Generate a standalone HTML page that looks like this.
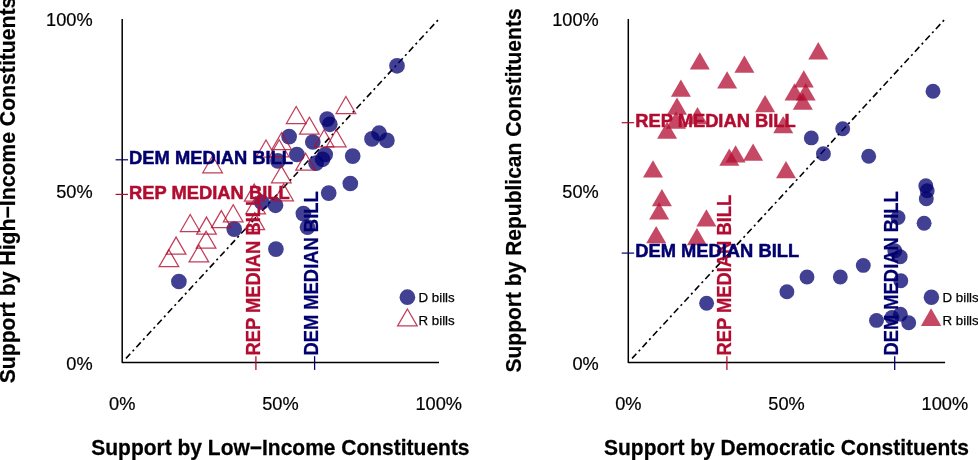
<!DOCTYPE html>
<html><head><meta charset="utf-8"><title>Support by constituents</title>
<style>html,body{margin:0;padding:0;background:#fff}svg{display:block;will-change:transform}text{font-family:"Liberation Sans",Arial,sans-serif}.t{font-size:18.2px;fill:#000;stroke:#000;stroke-width:0.2px}.b{font-size:18.2px;font-weight:bold;stroke-width:0.5px}.ti{font-size:21px;font-weight:bold;fill:#000;stroke:#000;stroke-width:0.25px}.lg{font-size:13.3px;fill:#000;stroke:#000;stroke-width:0.25px}</style></head><body>
<svg width="978" height="460" viewBox="0 0 978 460">
<rect width="978" height="460" fill="#fff"/>
<g transform="translate(0,0)">
<path d="M122.2 18.9L122.2 362.6L439.0 362.6" fill="none" stroke="#000" stroke-width="1.5" stroke-linejoin="round"/>
<path d="M437.95 20.1L126 358.4" fill="none" stroke="#000" stroke-width="1.6" stroke-dasharray="2.1 3.43 6.5 3.43"/>
<text class="t" transform="translate(92.6,26.2) scale(1,1.04)" text-anchor="end">100%</text>
<text class="t" transform="translate(92.6,198.1) scale(1,1.04)" text-anchor="end">50%</text>
<text class="t" transform="translate(92.6,369.9) scale(1,1.04)" text-anchor="end">0%</text>
<text class="t" transform="translate(122.2,410.3) scale(1,1.04)" text-anchor="middle">0%</text>
<text class="t" transform="translate(280.4,410.3) scale(1,1.04)" text-anchor="middle">50%</text>
<text class="t" transform="translate(438.7,410.3) scale(1,1.04)" text-anchor="middle">100%</text>
<text class="ti" transform="translate(280.4,454.9) scale(1,1.015)" text-anchor="middle">Support by Low−Income Constituents</text>
<text class="ti" style="stroke-width:0.2px" transform="translate(15.0,190.0) rotate(-90) scale(1.0095,1.03)" text-anchor="middle">Support by High−Income Constituents</text>
<circle cx="178.9" cy="281.5" r="7.85" fill="rgba(2,0,110,0.75)"/>
<circle cx="234.2" cy="229.1" r="7.85" fill="rgba(2,0,110,0.75)"/>
<circle cx="275.9" cy="249.1" r="7.85" fill="rgba(2,0,110,0.75)"/>
<circle cx="261.7" cy="202.2" r="7.85" fill="rgba(2,0,110,0.75)"/>
<circle cx="275.5" cy="205.3" r="7.85" fill="rgba(2,0,110,0.75)"/>
<circle cx="328.7" cy="193.1" r="7.85" fill="rgba(2,0,110,0.75)"/>
<circle cx="303.4" cy="213.6" r="7.85" fill="rgba(2,0,110,0.75)"/>
<circle cx="307.5" cy="227.2" r="7.85" fill="rgba(2,0,110,0.75)"/>
<circle cx="289.1" cy="136.6" r="7.85" fill="rgba(2,0,110,0.75)"/>
<circle cx="312.8" cy="142.0" r="7.85" fill="rgba(2,0,110,0.75)"/>
<circle cx="296.9" cy="154.5" r="7.85" fill="rgba(2,0,110,0.75)"/>
<circle cx="277.9" cy="160.9" r="7.85" fill="rgba(2,0,110,0.75)"/>
<circle cx="325.2" cy="154.5" r="7.85" fill="rgba(2,0,110,0.75)"/>
<circle cx="322.6" cy="159.3" r="7.85" fill="rgba(2,0,110,0.75)"/>
<circle cx="316.1" cy="163.2" r="7.85" fill="rgba(2,0,110,0.75)"/>
<circle cx="352.7" cy="156.1" r="7.85" fill="rgba(2,0,110,0.75)"/>
<circle cx="350.3" cy="183.5" r="7.85" fill="rgba(2,0,110,0.75)"/>
<circle cx="372.0" cy="138.9" r="7.85" fill="rgba(2,0,110,0.75)"/>
<circle cx="379.1" cy="133.2" r="7.85" fill="rgba(2,0,110,0.75)"/>
<circle cx="386.9" cy="140.4" r="7.85" fill="rgba(2,0,110,0.75)"/>
<circle cx="327.1" cy="119.1" r="7.85" fill="rgba(2,0,110,0.75)"/>
<circle cx="329.8" cy="124.3" r="7.85" fill="rgba(2,0,110,0.75)"/>
<circle cx="397.0" cy="65.8" r="7.85" fill="rgba(2,0,110,0.75)"/>
<path d="M168.9 249.7L178.7 266.6L159.1 266.6Z" fill="none" stroke="#B20C30" stroke-width="1.25" stroke-opacity="0.8"/>
<path d="M176.1 237.1L185.9 254.1L166.3 254.1Z" fill="none" stroke="#B20C30" stroke-width="1.25" stroke-opacity="0.8"/>
<path d="M198.9 245.0L208.7 261.9L189.1 261.9Z" fill="none" stroke="#B20C30" stroke-width="1.25" stroke-opacity="0.8"/>
<path d="M206.1 231.3L215.9 248.2L196.3 248.2Z" fill="none" stroke="#B20C30" stroke-width="1.25" stroke-opacity="0.8"/>
<path d="M190.2 214.5L200.0 231.5L180.4 231.5Z" fill="none" stroke="#B20C30" stroke-width="1.25" stroke-opacity="0.8"/>
<path d="M206.5 217.1L216.3 234.1L196.7 234.1Z" fill="none" stroke="#B20C30" stroke-width="1.25" stroke-opacity="0.8"/>
<path d="M221.3 210.6L231.1 227.6L211.5 227.6Z" fill="none" stroke="#B20C30" stroke-width="1.25" stroke-opacity="0.8"/>
<path d="M233.2 204.8L243.0 221.8L223.4 221.8Z" fill="none" stroke="#B20C30" stroke-width="1.25" stroke-opacity="0.8"/>
<path d="M254.2 184.1L264.0 201.1L244.4 201.1Z" fill="none" stroke="#B20C30" stroke-width="1.25" stroke-opacity="0.8"/>
<path d="M283.6 183.9L293.4 200.8L273.8 200.8Z" fill="none" stroke="#B20C30" stroke-width="1.25" stroke-opacity="0.8"/>
<path d="M255.6 196.9L265.4 213.8L245.8 213.8Z" fill="none" stroke="#B20C30" stroke-width="1.25" stroke-opacity="0.8"/>
<path d="M254.8 212.6L264.6 229.6L245.0 229.6Z" fill="none" stroke="#B20C30" stroke-width="1.25" stroke-opacity="0.8"/>
<path d="M281.3 165.9L291.1 182.8L271.5 182.8Z" fill="none" stroke="#B20C30" stroke-width="1.25" stroke-opacity="0.8"/>
<path d="M305.6 153.2L315.4 170.2L295.8 170.2Z" fill="none" stroke="#B20C30" stroke-width="1.25" stroke-opacity="0.8"/>
<path d="M309.4 117.3L319.2 134.2L299.6 134.2Z" fill="none" stroke="#B20C30" stroke-width="1.25" stroke-opacity="0.8"/>
<path d="M324.1 129.8L333.9 146.8L314.3 146.8Z" fill="none" stroke="#B20C30" stroke-width="1.25" stroke-opacity="0.8"/>
<path d="M336.3 129.8L346.1 146.8L326.5 146.8Z" fill="none" stroke="#B20C30" stroke-width="1.25" stroke-opacity="0.8"/>
<path d="M296.2 106.5L306.0 123.5L286.4 123.5Z" fill="none" stroke="#B20C30" stroke-width="1.25" stroke-opacity="0.8"/>
<path d="M345.9 96.5L355.7 113.5L336.1 113.5Z" fill="none" stroke="#B20C30" stroke-width="1.25" stroke-opacity="0.8"/>
<path d="M281.6 132.5L291.4 149.5L271.8 149.5Z" fill="none" stroke="#B20C30" stroke-width="1.25" stroke-opacity="0.8"/>
<path d="M279.2 139.8L289.0 156.8L269.4 156.8Z" fill="none" stroke="#B20C30" stroke-width="1.25" stroke-opacity="0.8"/>
<path d="M266.0 140.0L275.8 157.0L256.2 157.0Z" fill="none" stroke="#B20C30" stroke-width="1.25" stroke-opacity="0.8"/>
<path d="M212.6 155.8L222.4 172.8L202.8 172.8Z" fill="none" stroke="#B20C30" stroke-width="1.25" stroke-opacity="0.8"/>
<path d="M255.9 356.2L255.9 369.9" stroke="#B20C30" stroke-width="1.3"/>
<text class="b" transform="translate(260.2,355.6) rotate(-90) scale(1.01,1.06)" fill="#B20C30" stroke="#B20C30" style="stroke-width:0.25px">REP MEDIAN BILL</text>
<path d="M314.6 356.2L314.6 369.9" stroke="#02006E" stroke-width="1.3"/>
<text class="b" transform="translate(318.1,355.6) rotate(-90) scale(1.01,1.06)" fill="#02006E" stroke="#02006E" style="stroke-width:0.25px">DEM MEDIAN BILL</text>
<path d="M115.6 159.8L128 159.8" stroke="#02006E" stroke-width="1.2"/>
<text class="b" transform="translate(129.1,164.0) scale(1.008,1.02)" fill="#02006E" stroke="#02006E">DEM MEDIAN BILL</text>
<path d="M115.6 194.4L128 194.4" stroke="#B20C30" stroke-width="1.2"/>
<text class="b" transform="translate(129.1,198.6) scale(1.008,1.02)" fill="#B20C30" stroke="#B20C30">REP MEDIAN BILL</text>
<circle cx="407.4" cy="297.2" r="7.85" fill="rgba(2,0,110,0.75)"/>
<text class="lg" x="418.5" y="302.0">D bills</text>
<path d="M407.4 309.0L417.2 325.9L397.6 325.9Z" fill="none" stroke="#B20C30" stroke-width="1.25" stroke-opacity="0.8"/>
<text class="lg" x="418.5" y="324.9">R bills</text>
</g>
<g transform="translate(506.1,0)">
<path d="M122.2 18.9L122.2 362.6L439.0 362.6" fill="none" stroke="#000" stroke-width="1.5" stroke-linejoin="round"/>
<path d="M437.95 20.1L126 358.4" fill="none" stroke="#000" stroke-width="1.6" stroke-dasharray="2.1 3.43 6.5 3.43"/>
<text class="t" transform="translate(92.6,26.2) scale(1,1.04)" text-anchor="end">100%</text>
<text class="t" transform="translate(92.6,198.1) scale(1,1.04)" text-anchor="end">50%</text>
<text class="t" transform="translate(92.6,369.9) scale(1,1.04)" text-anchor="end">0%</text>
<text class="t" transform="translate(122.2,410.3) scale(1,1.04)" text-anchor="middle">0%</text>
<text class="t" transform="translate(280.4,410.3) scale(1,1.04)" text-anchor="middle">50%</text>
<text class="t" transform="translate(438.7,410.3) scale(1,1.04)" text-anchor="middle">100%</text>
<text class="ti" transform="translate(280.4,454.9) scale(1,1.015)" text-anchor="middle">Support by Democratic Constituents</text>
<text class="ti" style="stroke-width:0.2px" transform="translate(15.0,190.5) rotate(-90) scale(1.001,1.03)" text-anchor="middle">Support by Republican Constituents</text>
<circle cx="426.9" cy="91.3" r="7.45" fill="rgba(2,0,110,0.75)"/>
<circle cx="336.6" cy="128.7" r="7.45" fill="rgba(2,0,110,0.75)"/>
<circle cx="305.2" cy="137.9" r="7.45" fill="rgba(2,0,110,0.75)"/>
<circle cx="317.3" cy="153.7" r="7.45" fill="rgba(2,0,110,0.75)"/>
<circle cx="362.6" cy="156.3" r="7.45" fill="rgba(2,0,110,0.75)"/>
<circle cx="419.7" cy="185.8" r="7.45" fill="rgba(2,0,110,0.75)"/>
<circle cx="421.1" cy="190.7" r="7.45" fill="rgba(2,0,110,0.75)"/>
<circle cx="420.2" cy="198.8" r="7.45" fill="rgba(2,0,110,0.75)"/>
<circle cx="418.0" cy="223.3" r="7.45" fill="rgba(2,0,110,0.75)"/>
<circle cx="391.9" cy="217.5" r="7.45" fill="rgba(2,0,110,0.75)"/>
<circle cx="388.7" cy="250.8" r="7.45" fill="rgba(2,0,110,0.75)"/>
<circle cx="394.1" cy="256.7" r="7.45" fill="rgba(2,0,110,0.75)"/>
<circle cx="357.2" cy="265.4" r="7.45" fill="rgba(2,0,110,0.75)"/>
<circle cx="394.7" cy="280.7" r="7.45" fill="rgba(2,0,110,0.75)"/>
<circle cx="370.4" cy="320.4" r="7.45" fill="rgba(2,0,110,0.75)"/>
<circle cx="385.8" cy="317.4" r="7.45" fill="rgba(2,0,110,0.75)"/>
<circle cx="394.3" cy="314.3" r="7.45" fill="rgba(2,0,110,0.75)"/>
<circle cx="402.6" cy="322.7" r="7.45" fill="rgba(2,0,110,0.75)"/>
<circle cx="200.5" cy="303.2" r="7.45" fill="rgba(2,0,110,0.75)"/>
<circle cx="280.8" cy="291.7" r="7.45" fill="rgba(2,0,110,0.75)"/>
<circle cx="300.9" cy="277.0" r="7.45" fill="rgba(2,0,110,0.75)"/>
<circle cx="334.2" cy="277.0" r="7.45" fill="rgba(2,0,110,0.75)"/>
<path d="M193.7 52.2L203.7 69.5L183.7 69.5Z" fill="rgba(178,12,48,0.75)"/>
<path d="M221.0 71.3L231.0 88.5L211.0 88.5Z" fill="rgba(178,12,48,0.75)"/>
<path d="M174.8 79.5L184.8 96.8L164.8 96.8Z" fill="rgba(178,12,48,0.75)"/>
<path d="M238.3 55.4L248.3 72.7L228.3 72.7Z" fill="rgba(178,12,48,0.75)"/>
<path d="M170.9 97.6L180.9 114.8L160.9 114.8Z" fill="rgba(178,12,48,0.75)"/>
<path d="M191.4 107.0L201.4 124.2L181.4 124.2Z" fill="rgba(178,12,48,0.75)"/>
<path d="M169.9 111.6L179.9 128.8L159.9 128.8Z" fill="rgba(178,12,48,0.75)"/>
<path d="M161.0 121.5L171.0 138.8L151.0 138.8Z" fill="rgba(178,12,48,0.75)"/>
<path d="M312.2 42.1L322.2 59.4L302.2 59.4Z" fill="rgba(178,12,48,0.75)"/>
<path d="M297.7 70.2L307.7 87.5L287.7 87.5Z" fill="rgba(178,12,48,0.75)"/>
<path d="M288.4 83.2L298.4 100.5L278.4 100.5Z" fill="rgba(178,12,48,0.75)"/>
<path d="M299.6 83.2L309.6 100.5L289.6 100.5Z" fill="rgba(178,12,48,0.75)"/>
<path d="M296.7 92.5L306.7 109.8L286.7 109.8Z" fill="rgba(178,12,48,0.75)"/>
<path d="M259.0 94.9L269.0 112.2L249.0 112.2Z" fill="rgba(178,12,48,0.75)"/>
<path d="M277.1 115.9L287.1 133.2L267.1 133.2Z" fill="rgba(178,12,48,0.75)"/>
<path d="M146.9 160.3L156.9 177.6L136.9 177.6Z" fill="rgba(178,12,48,0.75)"/>
<path d="M223.2 148.6L233.2 165.8L213.2 165.8Z" fill="rgba(178,12,48,0.75)"/>
<path d="M229.5 145.3L239.5 162.6L219.5 162.6Z" fill="rgba(178,12,48,0.75)"/>
<path d="M155.8 188.9L165.8 206.2L145.8 206.2Z" fill="rgba(178,12,48,0.75)"/>
<path d="M153.0 202.3L163.0 219.6L143.0 219.6Z" fill="rgba(178,12,48,0.75)"/>
<path d="M200.3 209.3L210.3 226.6L190.3 226.6Z" fill="rgba(178,12,48,0.75)"/>
<path d="M150.1 226.1L160.1 243.3L140.1 243.3Z" fill="rgba(178,12,48,0.75)"/>
<path d="M190.8 228.0L200.8 245.2L180.8 245.2Z" fill="rgba(178,12,48,0.75)"/>
<path d="M247.0 143.4L257.0 160.7L237.0 160.7Z" fill="rgba(178,12,48,0.75)"/>
<path d="M279.9 161.0L289.9 178.2L269.9 178.2Z" fill="rgba(178,12,48,0.75)"/>
<path d="M220.79999999999995 356.2L220.79999999999995 369.9" stroke="#B20C30" stroke-width="1.3"/>
<text class="b" transform="translate(225.1,355.6) rotate(-90) scale(1.01,1.06)" fill="#B20C30" stroke="#B20C30" style="stroke-width:0.25px">REP MEDIAN BILL</text>
<path d="M388.6 356.2L388.6 369.9" stroke="#02006E" stroke-width="1.3"/>
<text class="b" transform="translate(392.1,355.6) rotate(-90) scale(1.01,1.06)" fill="#02006E" stroke="#02006E" style="stroke-width:0.25px">DEM MEDIAN BILL</text>
<path d="M115.6 122.7L128 122.7" stroke="#B20C30" stroke-width="1.2"/>
<text class="b" transform="translate(129.1,126.9) scale(1.008,1.02)" fill="#B20C30" stroke="#B20C30">REP MEDIAN BILL</text>
<path d="M115.6 253.1L128 253.1" stroke="#02006E" stroke-width="1.2"/>
<text class="b" transform="translate(129.1,257.3) scale(1.008,1.02)" fill="#02006E" stroke="#02006E">DEM MEDIAN BILL</text>
<circle cx="425.3" cy="297.3" r="7.75" fill="rgba(2,0,110,0.75)"/>
<text class="lg" x="436.4" y="302.1">D bills</text>
<path d="M425.0 308.3L435.2 326.0L414.8 326.0Z" fill="rgba(178,12,48,0.75)"/>
<text class="lg" x="436.4" y="325.0">R bills</text>
</g>
</svg></body></html>
